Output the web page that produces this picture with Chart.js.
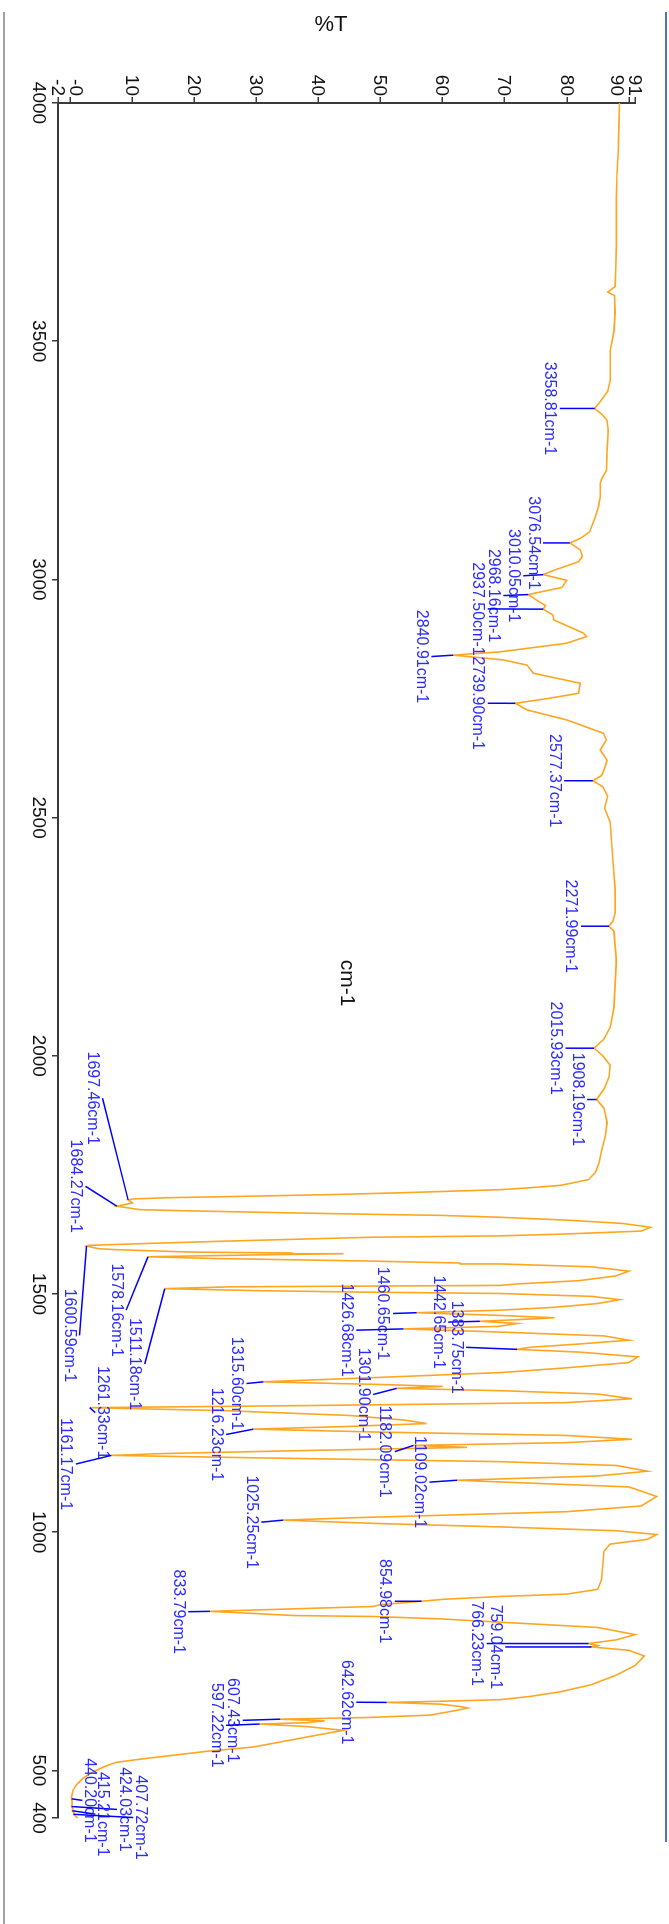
<!DOCTYPE html>
<html>
<head>
<meta charset="utf-8">
<title>IR spectrum</title>
<script src="https://cdn.jsdelivr.net/npm/chart.js@4.4.1/dist/chart.umd.min.js"></script>
<style>
  html, body { margin: 0; padding: 0; background: #ffffff; width: 669px; height: 1924px; overflow: hidden; }
  /* the spectrum is laid out landscape and turned a quarter turn clockwise */
  #frame { position: absolute; left: 0; top: 0; width: 1924px; height: 669px;
           transform-origin: 0 0; transform: translate(669px, 0) rotate(90deg); }
  #edgeLeft { position: absolute; left: 3px; top: 12px; width: 2px; height: 1912px; background: #a3a3a3; }
  #edgeRight { position: absolute; left: 665px; top: 12px; width: 2px; height: 1830px; background: #4f74b8; }
</style>
</head>
<body>
<div id="frame"><canvas id="spectrum" width="1924" height="669"></canvas></div>
<div id="edgeLeft"></div>
<div id="edgeRight"></div>
<script>
// Transmittance (%T) against wavenumber (cm-1), read band by band
const bandsHigh = [
  [4000, 88.5], [3950, 88.4], [3900, 88.3], [3850, 88.1], [3800, 88.0], [3750, 88.0],
  [3700, 88.0], [3650, 87.9], [3615, 87.8], [3603, 86.6], [3596, 87.7], [3560, 87.8],
  [3520, 87.6], [3481, 87.0], [3418, 87.0], [3395, 86.6], [3375, 85.5], [3358.81, 84.5],
  [3345, 85.8], [3334, 86.5], [3313, 86.7], [3271, 86.5], [3229, 86.4], [3210, 85.6],
  [3202, 85.4], [3173, 85.4], [3152, 85.1], [3131, 84.6], [3100, 83.7], [3086, 82.2],
  [3076.54, 80.5], [3062, 82.2], [3048, 82.5], [3037, 81.9], [3020, 78.1], [3010.05, 76.2],
  [2998, 80.0], [2983, 79.2], [2968.16, 73.8], [2955, 75.3], [2945, 76.6], [2937.50, 76.2],
  [2925, 77.8], [2915, 77.9], [2900, 80.5], [2887, 82.7], [2880, 83.2], [2866, 80.0],
  [2848, 69.3], [2840.91, 61.7], [2831, 69.8], [2820, 73.6], [2803, 74.6], [2782, 82.2],
  [2761, 81.9], [2750, 77.0], [2739.90, 71.7], [2726, 73.6], [2705, 80.0], [2677, 85.9],
  [2663, 86.4], [2642, 85.4]
];
const bandsMid = [
  [2620, 86.5], [2600, 86.0], [2588, 85.6], [2577.37, 84.2], [2565, 85.8], [2545, 86.6],
  [2520, 86.1], [2490, 87.0], [2450, 87.2], [2400, 87.5], [2350, 87.8], [2300, 87.8],
  [2282, 87.4], [2271.99, 86.8], [2262, 87.6], [2200, 88.0], [2150, 87.8], [2100, 87.6],
  [2060, 87.0], [2035, 86.0], [2015.93, 84.4], [2000, 85.8], [1980, 87.0], [1955, 86.8],
  [1930, 86.0], [1908.19, 84.8], [1890, 86.0], [1860, 86.5], [1830, 86.2], [1800, 85.6],
  [1775, 85.2], [1755, 84.6]
];
const bandsCarbonyl = [
  [1740, 83.5], [1728, 79.0], [1722, 73.0], [1719, 69.3], [1713, 54.7], [1709, 43.4],
  [1705, 27.9], [1702, 15.5], [1699.5, 10.2], [1697.46, 9.3], [1691, 10.0], [1684.27, 7.5],
  [1677, 11.2], [1674, 20.9], [1670, 36.5], [1667, 49.4], [1665, 59.6], [1661, 69.3],
  [1655, 80.0], [1648, 89.0], [1640, 93.5], [1632, 92.0], [1626, 80.0], [1622, 69.3],
  [1619, 48.3], [1611, 25.2], [1606, 12.3], [1602, 2.9], [1600.59, 2.6], [1595, 4.5],
  [1593, 7.4], [1588, 19.3], [1586, 35.7], [1584.5, 44.0], [1582, 30.0], [1578.16, 12.5],
  [1574.4, 23.3], [1569.5, 46.7], [1565, 62.8], [1563, 69.3], [1557, 84.0], [1548, 90.0],
  [1538, 88.0], [1528, 82.0], [1521, 72.0], [1518, 69.3], [1515, 25.7], [1511.18, 15.2],
  [1507, 30.0], [1504, 46.7], [1501, 69.3], [1495, 84.0], [1488, 88.5], [1480, 85.0]
];
const bandsFingerprint = [
  [1472, 78.0], [1466, 69.3], [1460.65, 55.8], [1455, 69.3], [1450, 78.0], [1446, 72.0],
  [1442.65, 66.0], [1438, 72.0], [1432, 69.0], [1426.68, 53.7], [1420, 69.3], [1412, 86.0],
  [1403, 90.0], [1395, 82.0], [1388, 74.0], [1383.75, 72.0], [1378, 82.0], [1368, 91.5],
  [1356, 90.0], [1345, 80.0], [1335, 69.3], [1325, 50.0], [1315.60, 31.1], [1310, 50.0],
  [1306, 60.0], [1301.90, 52.6], [1297, 69.3], [1290, 85.0], [1280, 90.5], [1272, 80.0],
  [1266, 40.0], [1261.33, 3.1], [1255, 25.0], [1245, 45.0], [1235, 54.0], [1228, 57.4],
  [1222, 45.0], [1216.23, 29.5], [1210, 50.0], [1203, 80.0], [1195, 90.5], [1188, 80.0],
  [1182.09, 55.3], [1178, 63.9], [1172, 40.0], [1165, 15.0], [1161.17, 6.6], [1155, 35.0],
  [1148, 69.3], [1140, 88.0], [1128, 93.0], [1118, 85.0], [1112, 70.0], [1109.02, 62.3],
  [1104, 72.0], [1095, 90.0], [1075, 94.5], [1055, 92.0], [1043, 80.0], [1039, 69.3],
  [1030, 45.0], [1025.25, 34.3], [1018, 50.0], [1011, 69.3], [1003, 88.0], [995, 94.5]
];
const bandsLow = [
  [985, 93.0], [975, 87.0], [960, 86.0], [930, 85.8], [900, 85.6], [880, 85.0],
  [870, 80.0], [865, 69.3], [859, 60.0], [854.98, 56.6], [848, 50.0], [844, 48.8],
  [839, 35.9], [833.79, 22.5], [829, 30.0], [825, 35.9], [823, 48.8], [818, 59.6],
  [811, 69.3], [800, 85.0], [785, 91.0], [774, 88.0], [766.23, 83.5], [762, 85.0],
  [759.04, 84.0], [752, 90.0], [740, 92.5], [720, 91.0], [700, 88.0], [680, 84.0],
  [665, 79.0], [655, 74.0], [648.5, 69.3], [645, 59.6], [642.62, 51.0], [639, 59.6],
  [634, 62.8], [631, 64.0], [626, 62.3], [616, 58.0], [611, 48.0], [607.43, 33.8],
  [604, 41.0], [600, 38.0], [597.22, 30.5], [592, 38.0], [584, 44.0], [570, 38.1],
  [549, 29.5], [540, 22.0], [526, 12.8], [517, 7.4], [507, 5.3], [495, 3.4],
  [483, 2.0], [470, 1.0], [458, 0.4], [445, 0.2], [440.20, 0.2], [432, 0.3],
  [424.03, 0.2], [419, 0.4], [415.21, 0.3], [411, 0.6], [407.72, 0.5], [403, 0.9],
  [400, 1.2]
];

const wavenumberTicks = [4000, 3500, 3000, 2500, 2000, 1500, 1000, 500, 400];
const transmittanceTicks = [-2, 0, 10, 20, 30, 40, 50, 60, 70, 80, 90, 91];
const transmittanceTickText = ['-2', '-0', '10', '20', '30', '40', '50', '60', '70', '80', '90', '91'];

// peaks picked on the spectrum; each label names the wavenumber of its minimum
const peakWavenumbers = [
  3358.81, 3076.54, 3010.05, 2968.16, 2937.50, 2840.91, 2739.90, 2577.37, 2271.99,
  2015.93, 1908.19, 1697.46, 1684.27, 1600.59, 1578.16, 1511.18, 1460.65, 1442.65,
  1426.68, 1383.75, 1315.60, 1301.90, 1261.33, 1216.23, 1182.09, 1161.17, 1109.02,
  1025.25, 854.98, 833.79, 766.23, 759.04, 642.62, 607.43, 597.22, 440.20, 424.03,
  415.21, 407.72
];

// where each label sits: [centre wavenumber, %T of the text edge facing the peak, side]
// side 'b' = text below the minimum, 'a' = text above it
const peakLabelPlacement = [
  [3358.81, 78.4, 'b'], [3076.54, 75.7, 'b'], [3007.5, 72.5, 'b'], [2966, 69.3, 'b'],
  [2938, 66.8, 'b'], [2838, 57.7, 'b'], [2740, 66.8, 'b'], [2577.37, 79.1, 'b'],
  [2271.99, 81.8, 'b'], [2015.93, 79.3, 'b'], [1908.19, 82.8, 'b'], [1911, 4.7, 'b'],
  [1726, 1.95, 'b'], [1413, 1.0, 'b'], [1466, 8.5, 'b'], [1353, 11.5, 'b'],
  [1459, 51.5, 'b'], [1441, 60.4, 'b'], [1424, 45.6, 'b'], [1388, 63.3, 'b'],
  [1312, 27.9, 'b'], [1289, 48.3, 'b'], [1251, 4.5, 'a'], [1205, 24.6, 'b'],
  [1169, 51.8, 'b'], [1143, 0.4, 'b'], [1105, 57.4, 'b'], [1021, 30.3, 'b'],
  [855, 51.8, 'b'], [833, 18.5, 'b'], [766.23, 66.6, 'b'], [759.04, 69.6, 'b'],
  [643, 45.6, 'b'], [605, 27.3, 'b'], [594.5, 24.6, 'b'], [437, 2.4, 'a'],
  [418, 8.0, 'a'], [408, 4.5, 'a'], [401, 10.6, 'a']
];

const spectrum = [].concat(bandsHigh, bandsMid, bandsCarbonyl, bandsFingerprint, bandsLow);

const FONT = 'Arial, "Liberation Sans", sans-serif';
Chart.defaults.font.family = FONT;

const peakLabels = {
  id: 'peakLabels',
  afterDatasetsDraw(chart) {
    const { ctx } = chart;
    const xs = chart.scales.x, ys = chart.scales.y;
    const size = 16, cap = size * 0.716;
    ctx.save();
    ctx.font = size + 'px ' + FONT;
    ctx.textAlign = 'center';
    ctx.textBaseline = 'alphabetic';
    peakWavenumbers.forEach((wn, i) => {
      const tip = spectrum.find(p => p[0] === wn);
      const [lw, lt, side] = peakLabelPlacement[i];
      const tx = xs.getPixelForValue(wn), ty = ys.getPixelForValue(tip[1]);
      const lx = xs.getPixelForValue(lw), ly = ys.getPixelForValue(lt);
      const baseline = side === 'b' ? ly + cap : ly;
      const start = side === 'b' ? ly - 3 : ly + 3;
      ctx.strokeStyle = '#0000ff';
      ctx.lineWidth = 1.5;
      ctx.beginPath();
      ctx.moveTo(lx, start);
      ctx.lineTo(tx, ty);
      ctx.stroke();
      ctx.fillStyle = '#2b2bff';
      ctx.fillText(wn.toFixed(2) + 'cm-1', lx, baseline);
    });
    ctx.restore();
  }
};

// %T tick text; the two crowded pairs at each end are eased apart
const transmittanceTickText_ = {
  id: 'transmittanceTickText',
  afterDraw(chart) {
    const { ctx } = chart;
    const ys = chart.scales.y;
    const nudge = { 0: -6, 90: 12 };
    ctx.save();
    ctx.font = '19px ' + FONT;
    ctx.fillStyle = '#111111';
    ctx.textAlign = 'right';
    ctx.textBaseline = 'middle';
    transmittanceTicks.forEach((v, i) => {
      const y = ys.getPixelForValue(v) + (nudge[v] || 0);
      ctx.fillText(transmittanceTickText[i], ys.right - 7, y + 1);
    });
    ctx.restore();
  }
};

const axisTitles = {
  id: 'axisTitles',
  afterDraw(chart) {
    const { ctx } = chart;
    ctx.save();
    ctx.fillStyle = '#111111';
    ctx.textAlign = 'center';
    ctx.textBaseline = 'middle';
    ctx.font = '21px ' + FONT;
    ctx.fillText('cm-1', 983, 322);
    ctx.translate(25, 338);
    ctx.rotate(-Math.PI / 2);
    ctx.font = '22px ' + FONT;
    ctx.fillText('%T', 0, 0);
    ctx.restore();
  }
};

new Chart(document.getElementById('spectrum'), {
  type: 'scatter',
  data: {
    datasets: [{
      data: spectrum.map(p => ({ x: p[0], y: p[1] })),
      showLine: true,
      borderColor: '#ffa51f',
      borderWidth: 1.6,
      pointRadius: 0,
      pointHoverRadius: 0,
      tension: 0,
      clip: false
    }]
  },
  options: {
    responsive: false,
    animation: false,
    events: [],
    layout: { padding: { left: 43, right: 106, top: 34, bottom: 18 } },
    plugins: { legend: { display: false }, tooltip: { enabled: false } },
    scales: {
      x: {
        type: 'linear', position: 'bottom', min: 400, max: 4000, reverse: true,
        afterBuildTicks: s => { s.ticks = wavenumberTicks.map(v => ({ value: v })); },
        afterFit: s => { s.height = 40; },
        border: { display: true, color: '#3a3a3a', width: 2 },
        grid: { drawOnChartArea: false, drawTicks: true, tickLength: 6, color: '#3a3a3a', lineWidth: 1.5 },
        ticks: { autoSkip: false, maxRotation: 0, minRotation: 0, padding: 2, color: '#111111',
                 font: { size: 19 }, callback: v => String(v) }
      },
      y: {
        type: 'linear', position: 'left', min: -2, max: 91,
        afterBuildTicks: s => { s.ticks = transmittanceTicks.map(v => ({ value: v })); },
        afterFit: s => { s.width = 60; },
        border: { display: true, color: '#3a3a3a', width: 2 },
        grid: { drawOnChartArea: false, drawTicks: true, tickLength: 6, color: '#3a3a3a', lineWidth: 1.5 },
        ticks: { display: false, autoSkip: false }
      }
    }
  },
  plugins: [peakLabels, transmittanceTickText_, axisTitles]
});
</script>
</body>
</html>
